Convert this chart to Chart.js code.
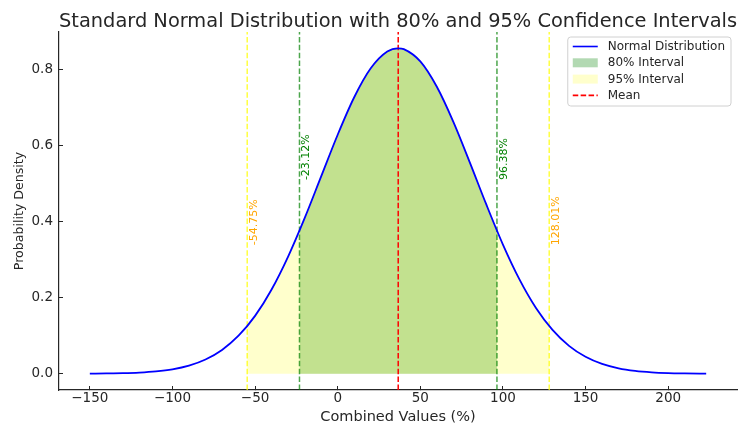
<!DOCTYPE html>
<html>
<head>
<meta charset="utf-8">
<script src="https://cdn.jsdelivr.net/npm/chart.js@4.4.1/dist/chart.umd.min.js"></script>
<style>
  html, body { margin: 0; padding: 0; background: #fff; }
</style>
</head>
<body>
<canvas id="chart" width="747" height="428"></canvas>
<script>
// values
const MEAN = 36.63;
const CI80 = [-23.12, 96.38];
const CI95 = [-54.75, 128.01];
const CI80_EDGE_Y = 0.376;   // curve height at the 80% bounds
const CI95_EDGE_Y = 0.125;   // curve height at the 95% bounds
const LABEL80_Y = 0.513;     // where the rotated % labels start
const LABEL95_Y = 0.342;

const CURVE_X = [-150, -140, -130, -120, -110, -100, -90, -80, -70, -60, -50, -40, -30, -20, -10, 0, 10, 20, 30, 36.63,
                 40, 50, 60, 70, 80, 90, 100, 110, 120, 130, 140, 150, 160, 170, 180, 190, 200, 210, 220, 223];
const CURVE_Y = [0.0003, 0.0007, 0.0014, 0.0030, 0.0061, 0.0117, 0.0214, 0.0375, 0.0626, 0.0999, 0.1521, 0.2216, 0.3082,
                 0.4092, 0.5189, 0.6284, 0.7269, 0.8030, 0.8471, 0.8557, 0.8535, 0.8212, 0.7546, 0.6623, 0.5552, 0.4444,
                 0.3397, 0.2481, 0.1729, 0.1152, 0.0733, 0.0445, 0.0258, 0.0143, 0.0076, 0.0038, 0.0018, 0.0009, 0.0004, 0.0003];

const X_TICKS = [-150, -100, -50, 0, 50, 100, 150, 200];
const Y_TICKS = [0.0, 0.2, 0.4, 0.6, 0.8];
const X_MIN = -168.65, X_MAX = 241.65;
const Y_MIN = -0.0428, Y_MAX = 0.8985;

const FONT = "'DejaVu Sans', sans-serif";
const INK = '#262626';
Chart.defaults.font.family = FONT;

const curve = CURVE_X.map((x, i) => ({ x: x, y: CURVE_Y[i] }));

// area under the curve between two bounds
function band(lo, hi, edgeY) {
    const pts = curve.filter(p => p.x > lo && p.x < hi);
    return [{ x: lo, y: edgeY }, ...pts, { x: hi, y: edgeY }];
}

function vline(x) {
    return [{ x: x, y: Y_MIN }, { x: x, y: Y_MAX }];
}

const dash = [5.5, 2.4];
const GREEN_LINE = 'rgba(0,128,0,0.7)';
const YELLOW_LINE = 'rgba(255,255,0,0.75)';

const titlePlugin = {
    id: 'topTitle',
    afterDraw(chart) {
        const { ctx, chartArea } = chart;
        ctx.save();
        ctx.font = '19.4px ' + FONT;
        ctx.fillStyle = INK;
        ctx.textAlign = 'center';
        ctx.textBaseline = 'alphabetic';
        ctx.fillText('Standard Normal Distribution with 80% and 95% Confidence Intervals',
            (chartArea.left + chartArea.right) / 2, 26.5);
        ctx.restore();
    }
};

// rotated percentage labels next to the interval lines
const boundLabels = {
    id: 'boundLabels',
    afterDatasetsDraw(chart) {
        const { ctx, scales } = chart;
        const items = [
            { v: CI95[0], y: LABEL95_Y, c: '#ffa500' },
            { v: CI80[0], y: LABEL80_Y, c: '#008000' },
            { v: CI80[1], y: LABEL80_Y, c: '#008000' },
            { v: CI95[1], y: LABEL95_Y, c: '#ffa500' }
        ];
        ctx.save();
        ctx.font = '11px ' + FONT;
        items.forEach(it => {
            const px = scales.x.getPixelForValue(it.v) + 1.5;
            const py = scales.y.getPixelForValue(it.y) + 1.5;
            ctx.save();
            ctx.translate(px, py);
            ctx.rotate(-Math.PI / 2);
            ctx.fillStyle = it.c;
            ctx.textAlign = 'left';
            ctx.textBaseline = 'top';
            ctx.fillText(it.v.toFixed(2) + '%', 0, 0);
            ctx.restore();
        });
        ctx.restore();
    }
};

// matplotlib-like legend box in the upper right
const boxLegend = {
    id: 'boxLegend',
    afterDraw(chart) {
        const { ctx, chartArea } = chart;
        const rows = [
            { t: 'Normal Distribution', kind: 'line', c: '#0000ff' },
            { t: '80% Interval', kind: 'patch', c: 'rgba(0,128,0,0.3)' },
            { t: '95% Interval', kind: 'patch', c: 'rgba(255,255,0,0.2)' },
            { t: 'Mean', kind: 'dash', c: '#ff0000' }
        ];
        ctx.save();
        ctx.font = '12px ' + FONT;
        const textW = Math.max(...rows.map(r => ctx.measureText(r.t).width));
        const w = 40 + textW + 6;
        const h = 69;
        const x0 = chartArea.right - 6 - w;
        const y0 = chartArea.top + 5;
        ctx.beginPath();
        ctx.roundRect(x0, y0, w, h, 3);
        ctx.fillStyle = 'rgba(255,255,255,0.85)';
        ctx.fill();
        ctx.strokeStyle = '#d0d0d0';
        ctx.lineWidth = 1;
        ctx.stroke();
        rows.forEach((r, i) => {
            const cy = y0 + 9.5 + i * 16.3;
            const hx = x0 + 5;
            if (r.kind === 'patch') {
                ctx.fillStyle = r.c;
                ctx.fillRect(hx, cy - 4.5, 25, 9);
            } else {
                ctx.beginPath();
                ctx.setLineDash(r.kind === 'dash' ? dash : []);
                ctx.moveTo(hx, cy);
                ctx.lineTo(hx + 25, cy);
                ctx.strokeStyle = r.c;
                ctx.lineWidth = 1.6;
                ctx.stroke();
                ctx.setLineDash([]);
            }
            ctx.fillStyle = INK;
            ctx.textAlign = 'left';
            ctx.textBaseline = 'middle';
            ctx.fillText(r.t, x0 + 40, cy + 0.5);
        });
        ctx.restore();
    }
};

new Chart(document.getElementById('chart'), {
    type: 'line',
    data: {
        datasets: [
            { label: 'Normal Distribution', data: curve, borderColor: '#0000ff', borderWidth: 1.8,
              pointRadius: 0, fill: false, cubicInterpolationMode: 'monotone', order: 0 },
            { label: '80% Interval', data: band(CI80[0], CI80[1], CI80_EDGE_Y), borderColor: 'transparent',
              borderWidth: 0, backgroundColor: 'rgba(0,128,0,0.3)', fill: 'origin', pointRadius: 0,
              cubicInterpolationMode: 'monotone', order: 4 },
            { label: '95% Interval', data: band(CI95[0], CI95[1], CI95_EDGE_Y), borderColor: 'transparent',
              borderWidth: 0, backgroundColor: 'rgba(255,255,0,0.2)', fill: 'origin', pointRadius: 0,
              cubicInterpolationMode: 'monotone', order: 3 },
            { label: 'Mean', data: vline(MEAN), borderColor: '#ff0000', borderWidth: 1.5, borderDash: dash,
              pointRadius: 0, fill: false, order: 1 },
            { label: '80 lo', data: vline(CI80[0]), borderColor: GREEN_LINE, borderWidth: 1.5, borderDash: dash,
              pointRadius: 0, fill: false, order: 1 },
            { label: '80 hi', data: vline(CI80[1]), borderColor: GREEN_LINE, borderWidth: 1.5, borderDash: dash,
              pointRadius: 0, fill: false, order: 1 },
            { label: '95 lo', data: vline(CI95[0]), borderColor: YELLOW_LINE, borderWidth: 1.5, borderDash: dash,
              pointRadius: 0, fill: false, order: 2 },
            { label: '95 hi', data: vline(CI95[1]), borderColor: YELLOW_LINE, borderWidth: 1.5, borderDash: dash,
              pointRadius: 0, fill: false, order: 2 }
        ]
    },
    options: {
        responsive: false,
        animation: false,
        layout: { padding: { top: 32, right: 10, left: 0, bottom: 0 } },
        plugins: { legend: { display: false }, tooltip: { enabled: false }, title: { display: false } },
        scales: {
            x: {
                type: 'linear', min: X_MIN, max: X_MAX,
                afterBuildTicks: s => { s.ticks = X_TICKS.map(v => ({ value: v })); },
                afterFit: s => { s.height = 38; },
                ticks: { callback: v => String(v).replace('-', '\u2212'), font: { size: 13.5 }, color: INK,
                         padding: 4, maxRotation: 0, autoSkip: false },
                grid: { drawOnChartArea: false, tickLength: -4, color: INK },
                border: { color: INK, width: 1.2 },
                title: { display: true, text: 'Combined Values (%)', font: { size: 14.5 }, color: INK,
                         padding: { top: 0, bottom: 2 } }
            },
            y: {
                type: 'linear', min: Y_MIN, max: Y_MAX,
                afterBuildTicks: s => { s.ticks = Y_TICKS.map(v => ({ value: v })); },
                afterFit: s => { s.width = 59; },
                ticks: { callback: v => v.toFixed(1), font: { size: 13.5 }, color: INK, padding: 10 },
                grid: { drawOnChartArea: false, tickLength: -4, color: INK },
                border: { color: INK, width: 1.2 },
                title: { display: true, text: 'Probability Density', font: { size: 12.6 }, color: INK,
                         padding: { top: 12, bottom: 0 } }
            }
        }
    },
    plugins: [titlePlugin, boundLabels, boxLegend]
});
</script>
</body>
</html>
